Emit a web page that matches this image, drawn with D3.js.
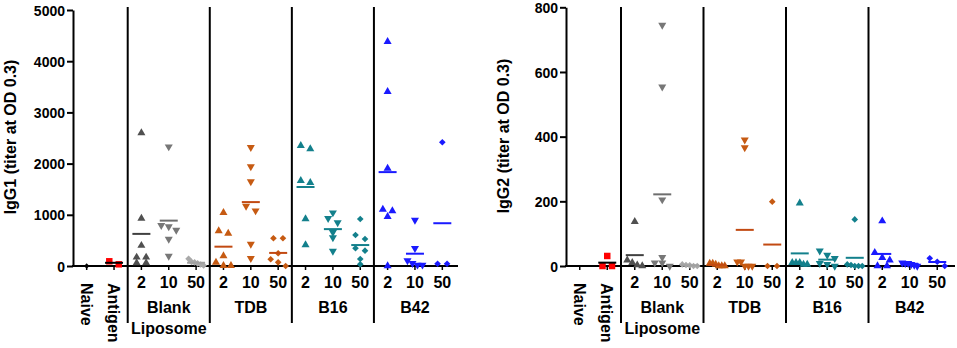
<!DOCTYPE html>
<html><head><meta charset="utf-8">
<script src="https://cdn.jsdelivr.net/npm/d3@7"></script>
<style>
body{margin:0;background:#fff}
svg{display:block}
text{font-family:"Liberation Sans",Arial,Helvetica,sans-serif;font-weight:bold;fill:#000}
</style>
</head><body>
<svg id="chart" width="957" height="348"></svg>
<script>
// ---------- DATA ----------
const categories = ["Naive","Antigen","2","10","50","2","10","50","2","10","50","2","10","50"];
const rotatedCategories = ["Naive","Antigen"];
const groupLabels = [["Blank","Liposome"],["TDB"],["B16"],["B42"]];
const groupFirstIndex = [2,5,8,11];

const igg1Title = "IgG1 (titer at OD 0.3)";
const igg1Ticks = [0,1000,2000,3000,4000,5000];
const igg1Values = [
  [0],
  [33,92],
  [2600,930,400,170,170,60,60],
  [2330,795,768,703,527,195],
  [140,80,70,50,30,10],
  [1041,684,638,195,72,6,6],
  [2318,1940,1647,1172,1080,430,150],
  [541,541,248,131,72,0],
  [2350,2285,1666,1627,918,410],
  [1041,931,846,658,553,293],
  [918,605,527,346,299,137,33],
  [4381,3404,1908,1107,1074,963,0],
  [898,346,104,53,20,20],
  [2416,45,45]
];

const igg2Title = "IgG2 (titer at OD 0.3)";
const igg2Ticks = [0,200,400,600,800];
const igg2Values = [
  [],
  [31,0,0],
  [137,18,10,3,0],
  [745,554,205,27,10,10,0],
  [5,3,2,0,0],
  [8,5,8,0,0,0],
  [390,366,13,13,0,0,0],
  [199,0,0],
  [194,10,10,10,5,5],
  [47,34,24,8,5,0],
  [144,5,3,0,0,0],
  [139,41,26,18,0,0],
  [10,8,8,5,3,0],
  [24,13,0]
];

// ---------- STYLES ----------
const pointColors = ["#000000","#ff0000","#505050","#777777","#a9a9a9",
  "#c65a12","#c65a12","#c65a12","#13808c","#13808c","#13808c","#1a1aff","#1a1aff","#1a1aff"];
const meanColors = ["#000000","#000000","#404040","#6e6e6e","#a0a0a0",
  "#c24a12","#c24a12","#c24a12","#13808c","#13808c","#13808c","#1a1aff","#1a1aff","#1a1aff"];
const markerShapes = ["dot","square","up","down","diamond","up","down","diamond","up","down","diamond","up","down","diamond"];

const svg = d3.select("#chart");

function symbolPath(shape){
  switch(shape){
    case "dot": return {d:d3.symbol(d3.symbolSquare,14)(), rot:45};
    case "square": return {d:d3.symbol(d3.symbolSquare,42)(), rot:0};
    case "up": return {d:d3.symbol(d3.symbolTriangle,28)(), rot:0};
    case "down": return {d:d3.symbol(d3.symbolTriangle,28)(), rot:180};
    case "diamond": return {d:d3.symbol(d3.symbolSquare,22)(), rot:45};
  }
}

function layoutPoints(vals, y){
  const pts = vals.map(v=>({v, py:y(v)})).sort((a,b)=>a.py-b.py);
  const rows=[]; let cur=null;
  pts.forEach(p=>{
    if(cur && p.py - cur[cur.length-1].py < 5) cur.push(p);
    else { cur=[p]; rows.push(cur); }
  });
  rows.forEach(r=>{
    const n=r.length;
    const sp = n>1 ? Math.min(9.5, 15/(n-1)) : 0;
    r.forEach((p,i)=>p.dx=(i-(n-1)/2)*sp);
  });
  return pts;
}

function drawPanel(cfg){
  const g = svg.append("g");
  const x = d3.scaleBand().domain(d3.range(categories.length)).range([cfg.x0,cfg.x1]).paddingInner(0).paddingOuter(0);
  const y = d3.scaleLinear().domain([0, d3.max(cfg.ticks)]).range([cfg.yBottom, cfg.yTop]);
  const bw = x.bandwidth();
  const cx = i => x(i)+bw/2;

  // y axis
  const ya = g.append("g").attr("transform",`translate(${cfg.x0},0)`)
    .call(d3.axisLeft(y).tickValues(cfg.ticks).tickSize(6).tickSizeOuter(0).tickPadding(2).tickFormat(d3.format("d")));
  ya.select(".domain").attr("stroke","#000").attr("stroke-width",2);
  ya.selectAll(".tick line").attr("stroke","#000").attr("stroke-width",2);
  ya.selectAll(".tick text").style("font-size","14px").attr("dy","0.36em");

  // x axis
  const xa = g.append("g").attr("transform",`translate(0,${cfg.yBottom})`)
    .call(d3.axisBottom(x).tickSize(4).tickSizeOuter(0).tickPadding(7)
      .tickFormat(i => rotatedCategories.includes(categories[i]) ? "" : categories[i]));
  xa.select(".domain").remove();
  xa.selectAll(".tick line").attr("stroke","#000").attr("stroke-width",1.5);
  xa.selectAll(".tick text").style("font-size","16px");
  g.append("line").attr("x1",cfg.x0-1).attr("x2",cfg.axisEnd).attr("y1",cfg.yBottom).attr("y2",cfg.yBottom)
    .attr("stroke","#000").attr("stroke-width",2);

  // rotated labels
  categories.forEach((c,i)=>{
    if(!rotatedCategories.includes(c)) return;
    g.append("text").attr("transform",`translate(${cx(i)},283) rotate(90)`)
      .attr("dy","0.36em").attr("text-anchor","start").style("font-size","16px").text(c);
  });

  // separators
  groupFirstIndex.forEach(fi=>{
    const sx = x(fi);
    g.append("line").attr("x1",sx).attr("x2",sx).attr("y1",7).attr("y2",323)
      .attr("stroke","#000").attr("stroke-width",2);
  });

  // group labels
  groupLabels.forEach((lab,k)=>{
    const mx = cx(groupFirstIndex[k]+1);
    lab.forEach((t,j)=>{
      g.append("text").attr("x",mx).attr("y",313+j*20.5).attr("text-anchor","middle")
        .style("font-size","16px").text(t);
    });
  });

  // y title
  g.append("text").attr("transform",`translate(${cfg.titleX},${cfg.titleY}) rotate(-90)`)
    .attr("text-anchor","middle").style("font-size","16px").text(cfg.title);

  // points
  cfg.values.forEach((vals,i)=>{
    const pts = layoutPoints(vals, y);
    const sym = symbolPath(markerShapes[i]);
    g.append("g").selectAll("path").data(pts).join("path")
      .attr("d",sym.d)
      .attr("transform",p=>`translate(${cx(i)+p.dx},${p.py}) rotate(${sym.rot})`)
      .attr("fill",pointColors[i]);
  });
  // means
  cfg.values.forEach((vals,i)=>{
    if(!vals.length) return;
    const m = d3.mean(vals);
    g.append("line").attr("x1",cx(i)-9).attr("x2",cx(i)+9).attr("y1",y(m)).attr("y2",y(m))
      .attr("stroke",meanColors[i]).attr("stroke-width",2);
  });
}

drawPanel({x0:73,x1:456,axisEnd:458,yTop:10,yBottom:266,ticks:igg1Ticks,values:igg1Values,title:igg1Title,titleX:15.5,titleY:137});
drawPanel({x0:566,x1:951,axisEnd:955,yTop:7.3,yBottom:266,ticks:igg2Ticks,values:igg2Values,title:igg2Title,titleX:508.5,titleY:136});
</script>
</body></html>
